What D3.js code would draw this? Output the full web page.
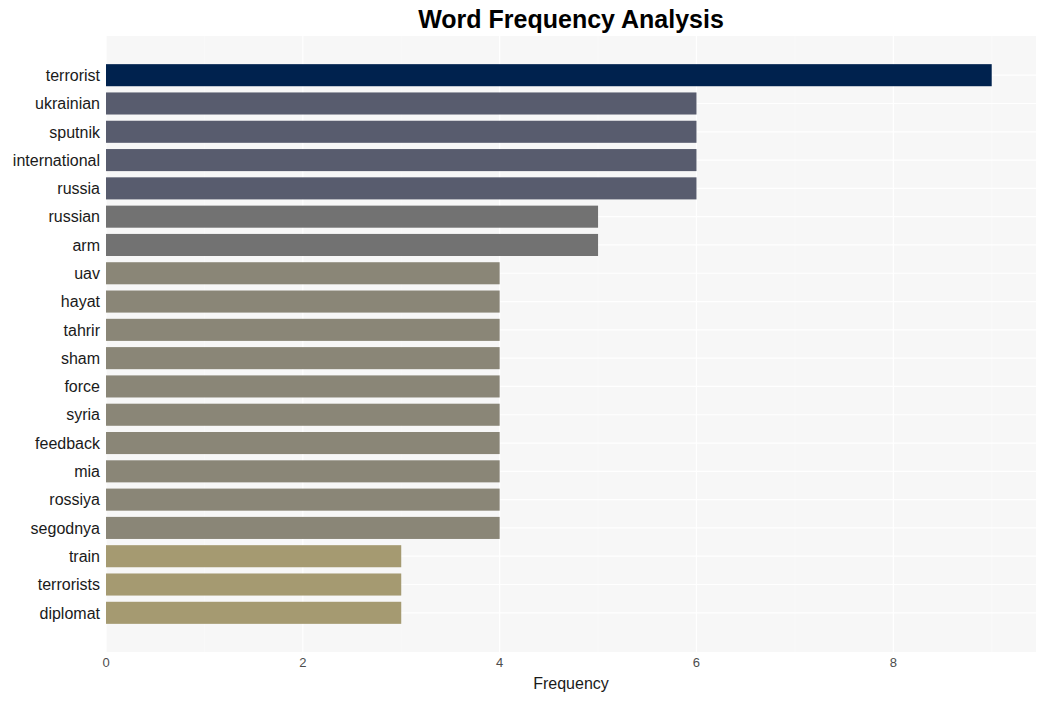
<!DOCTYPE html>
<html><head><meta charset="utf-8">
<script src="https://cdn.jsdelivr.net/npm/d3@7"></script>
<style>body{margin:0;background:#fff}svg{display:block}</style>
</head><body>
<svg id="c" width="1045" height="701"></svg>
<script>
const words = ["terrorist","ukrainian","sputnik","international","russia","russian","arm","uav","hayat","tahrir","sham","force","syria","feedback","mia","rossiya","segodnya","train","terrorists","diplomat"];
const counts = [9,6,6,6,6,5,5,4,4,4,4,4,4,4,4,4,4,3,3,3];
const xTicks = [0,2,4,6,8];
const colorByCount = {9:"#00224e",6:"#585c6e",5:"#727272",4:"#8a8677",3:"#a59a71"};

const svg = d3.select("#c");
const L=106, R=1036, T=36, B=652;
svg.append("rect").attr("x",L).attr("y",T).attr("width",R-L).attr("height",B-T).attr("fill","#f7f7f7");

const x = d3.scaleLinear().domain([0, 9*1.05]).range([L,R]);
const y = d3.scaleBand().domain(words).range([T,B]).paddingInner(0.22).paddingOuter(0.995);

const g = svg.append("g");
g.selectAll(".vmin").data([1,3,5,7,9]).enter().append("line")
 .attr("x1",d=>x(d)).attr("x2",d=>x(d)).attr("y1",T).attr("y2",B)
 .attr("stroke","#fbfbfb").attr("stroke-width",0.6);
g.selectAll(".vmaj").data(xTicks).enter().append("line")
 .attr("x1",d=>x(d)).attr("x2",d=>x(d)).attr("y1",T).attr("y2",B)
 .attr("stroke","#fff").attr("stroke-width",1.2);
g.selectAll(".h").data(words).enter().append("line")
 .attr("x1",L).attr("x2",R).attr("y1",d=>y(d)+y.bandwidth()/2).attr("y2",d=>y(d)+y.bandwidth()/2)
 .attr("stroke","#fff").attr("stroke-width",1.2);

svg.selectAll(".bar").data(words).enter().append("rect")
 .attr("x",x(0)).attr("y",d=>y(d))
 .attr("width",(d,i)=>x(counts[i])-x(0)).attr("height",y.bandwidth())
 .attr("fill",(d,i)=>colorByCount[counts[i]]);

svg.selectAll(".yl").data(words).enter().append("text")
 .attr("x",L-6).attr("y",d=>y(d)+y.bandwidth()/2).attr("dy","0.36em")
 .attr("text-anchor","end").attr("font-family","Liberation Sans, Arial, sans-serif")
 .attr("font-size",16).attr("fill","#1a1a1a").text(d=>d);

svg.selectAll(".xl").data(xTicks).enter().append("text")
 .attr("x",d=>x(d)).attr("y",667).attr("text-anchor","middle")
 .attr("font-family","Liberation Sans, Arial, sans-serif").attr("font-size",13).attr("fill","#4d4d4d")
 .text(d=>d);

svg.append("text").attr("x",(L+R)/2).attr("y",689).attr("text-anchor","middle")
 .attr("font-family","Liberation Sans, Arial, sans-serif").attr("font-size",16).attr("fill","#1a1a1a")
 .text("Frequency");

svg.append("text").attr("x",(L+R)/2).attr("y",28).attr("text-anchor","middle")
 .attr("font-family","Liberation Sans, Arial, sans-serif").attr("font-size",25).attr("font-weight","bold").attr("fill","#000")
 .text("Word Frequency Analysis");
</script>
</body></html>
